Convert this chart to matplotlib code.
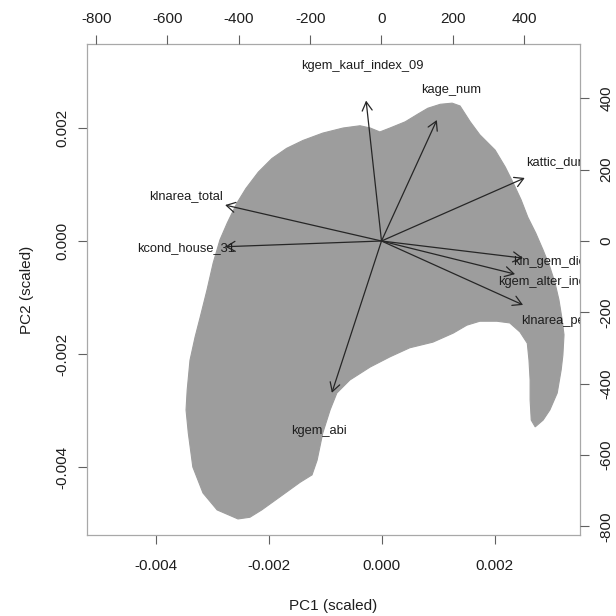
import matplotlib.pyplot as plt

plt.rcParams["font.family"] = ["Liberation Sans", "DejaVu Sans"]

# ---------------------------------------------------------
# Data
# ---------------------------------------------------------

# outline of the dense cloud of observation scores (PC1 / PC2, scaled)
score_pc1 = [
    -0.00038, -0.00020, -0.00003, 0.00015, 0.00042, 0.00065, 0.00082,
    0.00104, 0.00125, 0.00139, 0.00157, 0.00174, 0.00201, 0.00219,
    0.00233, 0.00247, 0.00259, 0.00273, 0.00286, 0.00298, 0.00307,
    0.00314, 0.00319, 0.00323, 0.00321, 0.00318, 0.00311, 0.00298,
    0.00286, 0.00272, 0.00265, 0.00263, 0.00263, 0.00261, 0.00258,
    0.00245, 0.00227, 0.00204, 0.00174, 0.00151, 0.00127, 0.00091,
    0.00050, 0.00015, -0.00020, -0.00056, -0.00079, -0.00091, -0.00104,
    -0.00114, -0.00123, -0.00144, -0.00180, -0.00212, -0.00233, -0.00254,
    -0.00291, -0.00316, -0.00334, -0.00342, -0.00346, -0.00344, -0.00339,
    -0.00330, -0.00321, -0.00309, -0.00298, -0.00286, -0.00273, -0.00256,
    -0.00240, -0.00218, -0.00194, -0.00168, -0.00139, -0.00104, -0.00068,
]
score_pc2 = [
    0.00204, 0.00200, 0.00193, 0.00200, 0.00211, 0.00225, 0.00235,
    0.00242, 0.00244, 0.00239, 0.00211, 0.00188, 0.00161, 0.00131,
    0.00103, 0.00073, 0.00042, 0.00014, -0.00016, -0.00046, -0.00074,
    -0.00104, -0.00135, -0.00166, -0.00202, -0.00228, -0.00269, -0.00299,
    -0.00317, -0.00329, -0.00317, -0.00281, -0.00246, -0.00211, -0.00181,
    -0.00161, -0.00145, -0.00142, -0.00142, -0.00149, -0.00163, -0.00179,
    -0.00189, -0.00205, -0.00223, -0.00246, -0.00269, -0.00299, -0.00340,
    -0.00388, -0.00414, -0.00427, -0.00453, -0.00476, -0.00489, -0.00492,
    -0.00476, -0.00446, -0.00400, -0.00340, -0.00299, -0.00264, -0.00211,
    -0.00170, -0.00135, -0.00087, -0.00039, 0.00002, 0.00032, 0.00067,
    0.00093, 0.00122, 0.00146, 0.00164, 0.00178, 0.00191, 0.00200,
]

# variable loadings (secondary axes, label positions)
variables = [
    "kgem_kauf_index_09",
    "kage_num",
    "kattic_durch",
    "kln_gem_dichte",
    "kgem_alter_index",
    "klnarea_pers",
    "kgem_abi",
    "klnarea_total",
    "kcond_house_31",
]
load_pc1 = [-54, 194, 502, 496, 468, 496, -174, -548, -548]
load_pc2 = [492, 424, 221, -60, -116, -224, -532, 126, -20]

pc_ticks = [-0.004, -0.002, 0.0, 0.002]
pc_tick_labels = ["-0.004", "-0.002", "0.000", "0.002"]
load_ticks = [-800, -600, -400, -200, 0, 200, 400]
load_tick_labels = ["-800", "-600", "-400", "-200", "0", "200", "400"]

# ---------------------------------------------------------
# Style
# ---------------------------------------------------------

cloud_color = "#9d9d9d"
arrow_color = "#262626"
text_color = "#1e1e1e"
box_color = "#a8a8a8"
tick_color = "#606060"
arrow_frac = 0.8  # biplot draws arrows to 80% of the loading

fig = plt.figure(figsize=(6.16, 6.16), dpi=100)
rect = [87 / 616, 1 - 535 / 616, 493 / 616, 491 / 616]

# ---------------------------------------------------------
# Scores (primary axes)
# ---------------------------------------------------------

ax = fig.add_axes(rect)
ax.fill(score_pc1, score_pc2, color=cloud_color, ec=cloud_color, lw=0.8)
ax.set_xlim(-0.005213, 0.003513)
ax.set_ylim(-0.005204, 0.003487)

ax.set_xticks(pc_ticks)
ax.set_xticklabels(pc_tick_labels)
ax.set_yticks(pc_ticks)
ax.set_yticklabels(pc_tick_labels, rotation=90, va="center")
ax.tick_params(direction="out", length=6.5, width=0.8, color=tick_color,
               labelsize=11, labelcolor=text_color)
ax.tick_params(axis="x", pad=11)
ax.tick_params(axis="y", pad=6.5)

for spine in ax.spines.values():
    spine.set_color(box_color)
    spine.set_linewidth(0.9)

ax.set_xlabel("PC1 (scaled)", fontsize=11, color=text_color, labelpad=18.5)
ax.set_ylabel("PC2 (scaled)", fontsize=11, color=text_color, labelpad=15)

# ---------------------------------------------------------
# Loadings (secondary axes)
# ---------------------------------------------------------

ax2 = fig.add_axes(rect, facecolor="none")
ax2.set_xlim(-825.6, 556.5)
ax2.set_ylim(-824.2, 552.3)
ax2.xaxis.tick_top()
ax2.yaxis.tick_right()
ax2.set_xticks(load_ticks)
ax2.set_xticklabels(load_tick_labels)
ax2.set_yticks(load_ticks)
ax2.set_yticklabels(load_tick_labels, rotation=90, va="center")
ax2.tick_params(direction="out", length=6.5, width=0.8, color=tick_color,
                labelsize=11, labelcolor=text_color)
ax2.tick_params(axis="x", pad=6.5)
ax2.tick_params(axis="y", pad=7.5)
for spine in ax2.spines.values():
    spine.set_visible(False)

for name, lx, ly in zip(variables, load_pc1, load_pc2):
    ax2.annotate(
        "",
        xy=(arrow_frac * lx, arrow_frac * ly),
        xytext=(0, 0),
        arrowprops=dict(
            arrowstyle="->,head_length=0.63,head_width=0.36",
            color=arrow_color,
            lw=0.9,
            shrinkA=0,
            shrinkB=0,
            mutation_scale=10,
        ),
    )
    ax2.text(lx, ly, name, ha="center", va="center", fontsize=9.3,
             color=text_color, clip_on=True)

fig.savefig("out.png", dpi=100)
